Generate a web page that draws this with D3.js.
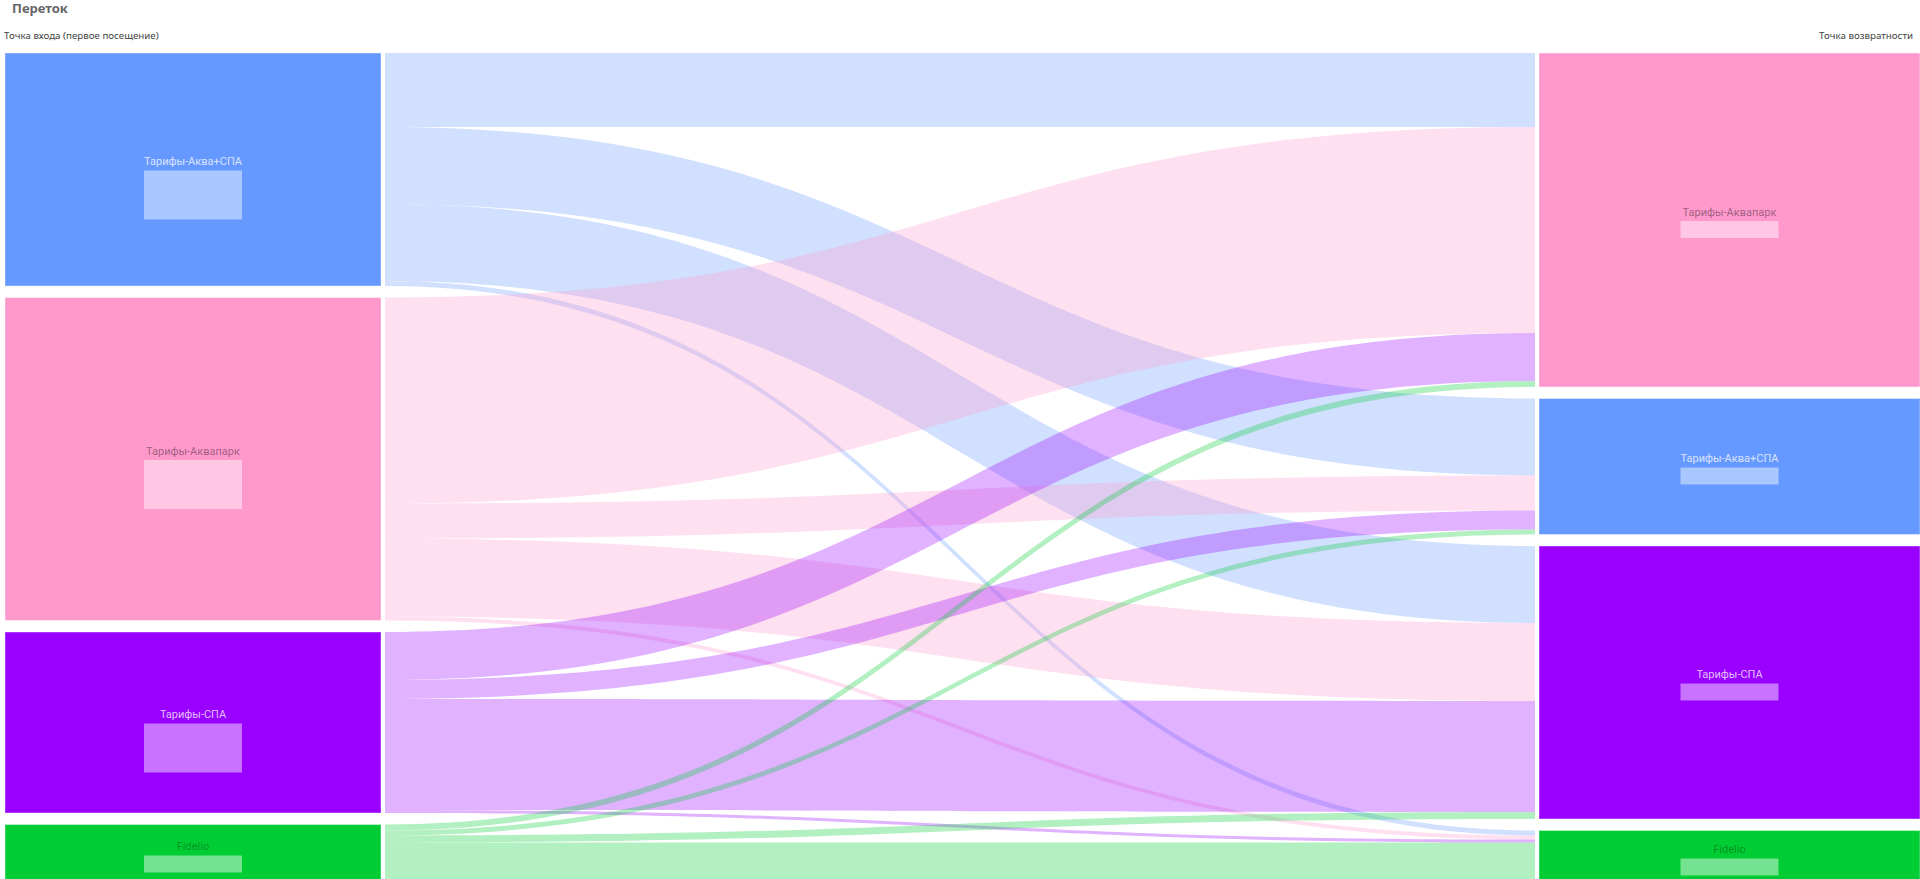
<!DOCTYPE html>
<html lang="ru">
<head>
<meta charset="utf-8">
<title>Переток</title>
<script src="https://cdn.jsdelivr.net/npm/d3@7.9.0/dist/d3.min.js"></script>
<style>
  html, body { margin: 0; padding: 0; background: #fff; overflow: hidden; }
  svg { display: block; }
  .title { font: bold 13px "Noto Sans", "Open Sans", sans-serif; fill: #666; }
  .caption { font: 9.75px "Noto Sans", "Open Sans", sans-serif; fill: #444; }
  .node-label { font: 11px Roboto, sans-serif; }
</style>
</head>
<body>
<div id="chart"></div>
<script>
// left column = entry point, right column = return point
const sources = ['Тарифы-Аква+СПА', 'Тарифы-Аквапарк', 'Тарифы-СПА', 'Fidelio'];
const targets = ['Тарифы-Аквапарк', 'Тарифы-Аква+СПА', 'Тарифы-СПА', 'Fidelio'];

// flow sizes, one array per source, values in the order of `targets`
const fromAquaSpa  = [74, 77, 77, 5];
const fromAquapark = [206, 35, 78, 4];
const fromSpa      = [48, 19, 111, 3];
const fromFidelio  = [6, 5, 7, 42];

const titleText = 'Переток';
const leftCaption = 'Точка входа (первое посещение)';
const rightCaption = 'Точка возвратности';

const productColor = {
  'Тарифы-Аква+СПА': '#6699ff',
  'Тарифы-Аквапарк': '#ff99cc',
  'Тарифы-СПА': '#9900ff',
  'Fidelio': '#00cc33'
};
// label colour depends on how light the node is
const labelColor = {
  'Тарифы-Аква+СПА': 'rgba(255,255,255,0.75)',
  'Тарифы-Аквапарк': 'rgba(0,0,0,0.4)',
  'Тарифы-СПА': 'rgba(255,255,255,0.75)',
  'Fidelio': 'rgba(0,0,0,0.3)'
};

const flowRows = [fromAquaSpa, fromAquapark, fromSpa, fromFidelio];
const links = [];
flowRows.forEach((row, i) => {
  row.forEach((v, j) => links.push({ source: sources[i], target: targets[j], si: i, ti: j, value: v }));
});

const width = 1920;
const height = 879;
const plotTop = 53;
const plotBottom = 884.5;
const pad = 11.5;
const leftX = [5, 381];
const rightX = [1539, 1920];
const linkGap = 4;

const total = d3.sum(links, d => d.value);
const ky = d3.scaleLinear()
  .domain([0, total])
  .range([0, plotBottom - plotTop - pad * (sources.length - 1)]);

function layoutColumn(names, key, x) {
  let y = plotTop;
  return names.map(name => {
    const value = d3.sum(links.filter(l => l[key] === name), l => l.value);
    const node = { name, value, x0: x[0], x1: x[1], y0: y, y1: y + ky(value) };
    y = node.y1 + pad;
    return node;
  });
}

const leftNodes = layoutColumn(sources, 'source', leftX);
const rightNodes = layoutColumn(targets, 'target', rightX);

// stack links at each end: at source ordered by target, at target ordered by source
leftNodes.forEach((n, i) => {
  let y = n.y0;
  links.filter(l => l.si === i).sort((a, b) => a.ti - b.ti).forEach(l => {
    l.sy0 = y; l.sy1 = y + ky(l.value); y = l.sy1;
  });
});
rightNodes.forEach((n, j) => {
  let y = n.y0;
  links.filter(l => l.ti === j).sort((a, b) => a.si - b.si).forEach(l => {
    l.ty0 = y; l.ty1 = y + ky(l.value); y = l.ty1;
  });
});

function ribbon(l) {
  const x0 = leftX[1] + linkGap;
  const x1 = rightX[0] - linkGap;
  const xm = (x0 + x1) / 2;
  const p = d3.path();
  p.moveTo(x0, l.sy0);
  p.bezierCurveTo(xm, l.sy0, xm, l.ty0, x1, l.ty0);
  p.lineTo(x1, l.ty1);
  p.bezierCurveTo(xm, l.ty1, xm, l.sy1, x0, l.sy1);
  p.closePath();
  return p.toString();
}

const svg = d3.select('#chart')
  .append('svg')
  .attr('width', width)
  .attr('height', height);

svg.append('text')
  .attr('class', 'title')
  .attr('x', 12)
  .attr('y', 13)
  .text(titleText);

svg.append('text')
  .attr('class', 'caption')
  .attr('x', 4)
  .attr('y', 39)
  .text(leftCaption);

svg.append('text')
  .attr('class', 'caption')
  .attr('x', 1913)
  .attr('y', 39)
  .attr('text-anchor', 'end')
  .text(rightCaption);

svg.append('g')
  .attr('class', 'links')
  .selectAll('path')
  .data(links)
  .join('path')
    .attr('d', ribbon)
    .attr('fill', d => productColor[d.source])
    .attr('fill-opacity', 0.3);

const nodes = leftNodes.map(n => ({ ...n, big: n.name !== 'Fidelio' }))
  .concat(rightNodes.map(n => ({ ...n, big: false })));

const nodeG = svg.append('g')
  .attr('class', 'nodes')
  .selectAll('g')
  .data(nodes)
  .join('g');

nodeG.append('rect')
  .attr('x', d => d.x0)
  .attr('y', d => d.y0)
  .attr('width', d => d.x1 - d.x0)
  .attr('height', d => d.y1 - d.y0)
  .attr('fill', d => productColor[d.name])
  .attr('stroke', '#fff')
  .attr('stroke-opacity', 0.4);

nodeG.append('text')
  .attr('class', 'node-label')
  .attr('x', d => (d.x0 + d.x1) / 2)
  .attr('y', d => (d.y0 + d.y1) / 2 - 8)
  .attr('dy', '0.35em')
  .attr('text-anchor', 'middle')
  .attr('fill', d => labelColor[d.name])
  .text(d => d.name);

// hidden (blurred) value under each label
nodeG.append('rect')
  .attr('x', d => (d.x0 + d.x1) / 2 - 49)
  .attr('y', d => (d.y0 + d.y1) / 2 + 1)
  .attr('width', 98)
  .attr('height', d => d.big ? 49 : 17)
  .attr('fill', '#fff')
  .attr('fill-opacity', 0.45);
</script>
</body>
</html>
